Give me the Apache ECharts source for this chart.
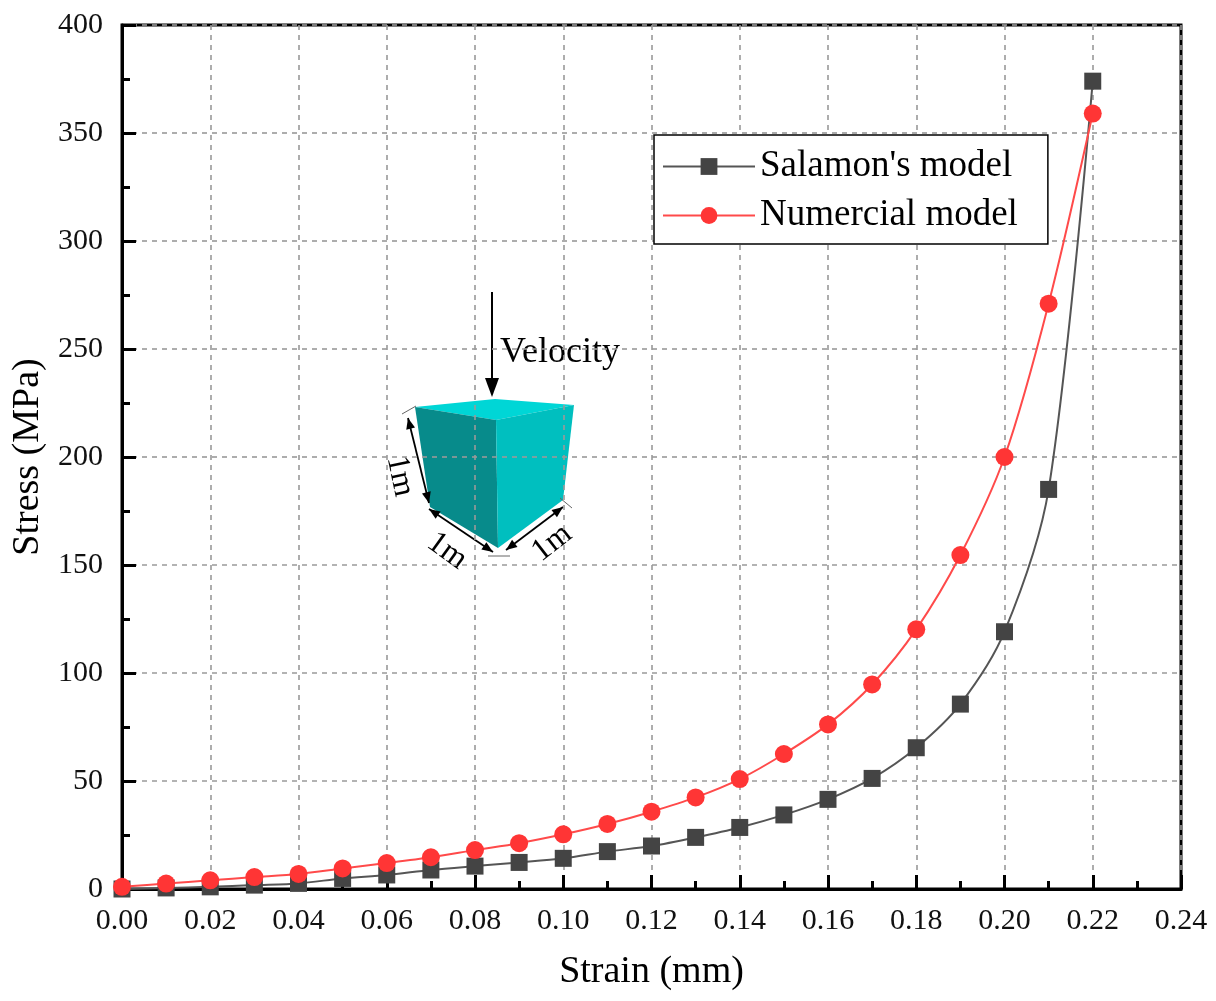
<!DOCTYPE html>
<html>
<head>
<meta charset="utf-8">
<script src="https://cdn.jsdelivr.net/npm/echarts@6/dist/echarts.min.js"></script>
<style>
  html, body { margin: 0; padding: 0; background: #fff; }
  #chart { width: 1216px; height: 1001px; }
</style>
</head>
<body>
<div id="chart"></div>
<script>
// strain values (x) and the two stress curves
var strain = [0.00, 0.01, 0.02, 0.03, 0.04, 0.05, 0.06, 0.07, 0.08, 0.09, 0.10, 0.11,
              0.12, 0.13, 0.14, 0.15, 0.16, 0.17, 0.18, 0.19, 0.20, 0.21, 0.22];
var salamon = [0, 0.5, 1, 1.8, 2.6, 4.9, 6.5, 8.8, 10.6, 12.3, 14.2, 17.3,
               19.9, 23.9, 28.5, 34.3, 41.5, 51.2, 65.4, 85.6, 119.1, 185, 374];
var numerical = [1, 2.5, 4, 5.5, 7, 9.5, 12, 14.7, 18, 21.2, 25.3, 30.1,
                 35.8, 42.4, 50.9, 62.5, 76.2, 94.7, 120.2, 154.6, 200, 271, 359];
var seriesNames = ["Salamon's model", 'Numercial model'];

function pairs(ys) {
    return strain.map(function (x, i) { return [x, ys[i]]; });
}

var serif = 'Liberation Serif, Times New Roman, serif';

// little double-headed arrow for the cube sketch
function arrowHead(tx, ty, fx, fy) {
    var a = Math.atan2(ty - fy, tx - fx), len = 11, w = 4.5;
    var bx = tx - len * Math.cos(a), by = ty - len * Math.sin(a);
    return {
        type: 'polygon',
        shape: { points: [[tx, ty],
            [bx + w * Math.sin(a), by - w * Math.cos(a)],
            [bx - w * Math.sin(a), by + w * Math.cos(a)]] },
        style: { fill: '#000' }
    };
}
function dimLine(x1, y1, x2, y2) {
    return [
        { type: 'line', shape: { x1: x1, y1: y1, x2: x2, y2: y2 }, style: { stroke: '#000', lineWidth: 1.8 } },
        arrowHead(x1, y1, x2, y2),
        arrowHead(x2, y2, x1, y1)
    ];
}
function label(txt, x, y, deg) {
    return {
        type: 'text', x: x, y: y, rotation: deg * Math.PI / 180,
        style: { text: txt, fill: '#000', font: '32px ' + serif, align: 'center', verticalAlign: 'middle' }
    };
}

var sketch = [
    // cube faces
    { type: 'polygon', shape: { points: [[415, 407], [495, 399], [574, 405], [496, 420]] }, style: { fill: '#00d6d6' } },
    { type: 'polygon', shape: { points: [[415, 407], [496, 420], [498, 548], [430, 507]] }, style: { fill: '#078b8b' } },
    { type: 'polygon', shape: { points: [[496, 420], [574, 405], [563, 500], [498, 548]] }, style: { fill: '#00bfbf' } },
    // velocity arrow
    { type: 'line', shape: { x1: 492, y1: 292, x2: 492, y2: 384 }, style: { stroke: '#000', lineWidth: 2 } },
    { type: 'polygon', shape: { points: [[492, 397], [485, 378], [499, 378]] }, style: { fill: '#000' } },
    {
        type: 'text', x: 500, y: 353,
        style: { text: 'Velocity', fill: '#000', font: '36px ' + serif, verticalAlign: 'middle' }
    },
    // extension lines
    { type: 'line', shape: { x1: 402, y1: 414, x2: 416, y2: 406 }, style: { stroke: '#666', lineWidth: 1 } },
    { type: 'line', shape: { x1: 488, y1: 556, x2: 510, y2: 556 }, style: { stroke: '#666', lineWidth: 1 } },
    { type: 'line', shape: { x1: 560, y1: 498, x2: 572, y2: 508 }, style: { stroke: '#666', lineWidth: 1 } },
    label('1m', 400, 476, -78),
    label('1m', 447, 551, -36),
    label('1m', 552, 543, 38)
].concat(dimLine(408, 418, 429, 503))
 .concat(dimLine(429, 509, 493, 552))
 .concat(dimLine(506, 550, 563, 507));

var chart = echarts.init(document.getElementById('chart'));
chart.setOption({
    animation: false,
    backgroundColor: '#fff',
    grid: {
        left: 122, right: 35, top: 25, bottom: 112,
        show: true, borderColor: '#000', borderWidth: 3, backgroundColor: 'transparent'
    },
    legend: {
        orient: 'vertical',
        left: 654, top: 135,
        padding: [13, 30, 10, 8],
        itemGap: 12,
        itemWidth: 92,
        itemHeight: 21,
        borderColor: '#000',
        borderWidth: 1.5,
        backgroundColor: '#fff',
        data: seriesNames,
        textStyle: { fontFamily: serif, fontSize: 37, color: '#000' }
    },
    xAxis: {
        type: 'value',
        min: 0, max: 0.24, interval: 0.02,
        name: 'Strain (mm)',
        nameLocation: 'middle',
        nameGap: 64,
        nameTextStyle: { fontFamily: serif, fontSize: 38, color: '#000' },
        axisLine: { lineStyle: { color: '#000', width: 3 } },
        axisTick: { inside: true, length: 14, lineStyle: { color: '#000', width: 3 } },
        minorTick: { show: true, splitNumber: 2, length: 8, lineStyle: { color: '#000', width: 3 } },
        axisLabel: {
            margin: 17, fontFamily: serif, fontSize: 30, color: '#111',
            formatter: function (v) { return v.toFixed(2); }
        },
        splitLine: { show: true, lineStyle: { color: '#9a9a9a', width: 1.6, type: [5, 5] } }
    },
    yAxis: {
        type: 'value',
        min: 0, max: 400, interval: 50,
        name: 'Stress (MPa)',
        nameLocation: 'middle',
        nameGap: 74,
        nameTextStyle: { fontFamily: serif, fontSize: 38, color: '#000' },
        axisLine: { lineStyle: { color: '#000', width: 3 } },
        axisTick: { inside: true, length: 14, lineStyle: { color: '#000', width: 3 } },
        minorTick: { show: true, splitNumber: 2, length: 8, lineStyle: { color: '#000', width: 3 } },
        axisLabel: { margin: 19, fontFamily: serif, fontSize: 30, color: '#111' },
        splitLine: { show: true, lineStyle: { color: '#9a9a9a', width: 1.6, type: [5, 5] } }
    },
    series: [
        {
            name: seriesNames[0],
            type: 'line',
            data: pairs(salamon),
            smooth: 0.3,
            symbol: 'rect',
            symbolSize: 17,
            itemStyle: { color: '#444' },
            lineStyle: { color: '#555', width: 2 },
            z: 3
        },
        {
            name: seriesNames[1],
            type: 'line',
            data: pairs(numerical),
            smooth: 0.3,
            symbol: 'circle',
            symbolSize: 18,
            itemStyle: { color: '#ff3535' },
            lineStyle: { color: '#ff4a4a', width: 2 },
            z: 4
        }
    ],
    graphic: sketch
});
</script>
</body>
</html>
